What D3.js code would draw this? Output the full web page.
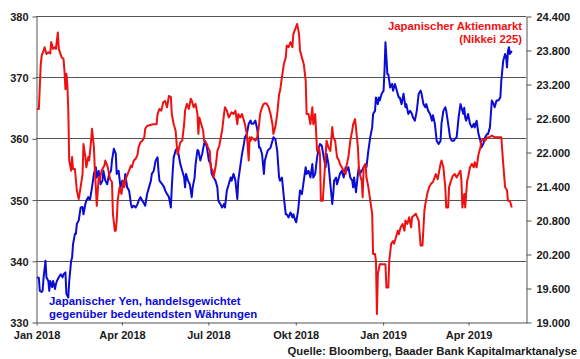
<!DOCTYPE html>
<html><head><meta charset="utf-8">
<script src="https://cdn.jsdelivr.net/npm/d3@7"></script>
<style>
html,body{margin:0;padding:0;background:#fff;}
svg{display:block;font-family:"Liberation Sans",Arial,sans-serif;font-weight:bold;}
</style></head><body>
<svg id="chart" width="580" height="359"></svg>
<script>
// ---------- DATA ----------
const nikkeiDates = ["2018-01-02","2018-01-04","2018-01-06","2018-01-07","2018-01-09","2018-01-10","2018-01-12","2018-01-14","2018-01-16","2018-01-17","2018-01-19","2018-01-21","2018-01-22","2018-01-24","2018-01-25","2018-01-28","2018-01-30","2018-01-31","2018-02-01","2018-02-02","2018-02-03","2018-02-04","2018-02-05","2018-02-07","2018-02-08","2018-02-09","2018-02-11","2018-02-13","2018-02-15","2018-02-17","2018-02-19","2018-02-20","2018-02-22","2018-02-23","2018-02-25","2018-02-26","2018-02-28","2018-03-01","2018-03-03","2018-03-04","2018-03-05","2018-03-06","2018-03-08","2018-03-09","2018-03-11","2018-03-14","2018-03-15","2018-03-17","2018-03-18","2018-03-20","2018-03-22","2018-03-23","2018-03-25","2018-03-26","2018-03-27","2018-03-28","2018-03-30","2018-04-01","2018-04-03","2018-04-04","2018-04-06","2018-04-09","2018-04-11","2018-04-12","2018-04-14","2018-04-16","2018-04-18","2018-04-19","2018-04-21","2018-04-23","2018-04-25","2018-04-26","2018-04-28","2018-05-02","2018-05-05","2018-05-08","2018-05-09","2018-05-11","2018-05-13","2018-05-15","2018-05-17","2018-05-19","2018-05-21","2018-05-23","2018-05-24","2018-05-26","2018-05-28","2018-05-30","2018-05-31","2018-06-02","2018-06-04","2018-06-06","2018-06-07","2018-06-09","2018-06-11","2018-06-13","2018-06-14","2018-06-16","2018-06-18","2018-06-20","2018-06-21","2018-06-22","2018-06-24","2018-06-26","2018-06-27","2018-06-30","2018-07-01","2018-07-03","2018-07-04","2018-07-06","2018-07-07","2018-07-09","2018-07-10","2018-07-11","2018-07-13","2018-07-14","2018-07-16","2018-07-18","2018-07-19","2018-07-21","2018-07-23","2018-07-25","2018-07-26","2018-07-28","2018-07-30","2018-08-01","2018-08-02","2018-08-04","2018-08-06","2018-08-08","2018-08-09","2018-08-11","2018-08-13","2018-08-14","2018-08-15","2018-08-16","2018-08-18","2018-08-20","2018-08-22","2018-08-24","2018-08-25","2018-08-27","2018-08-29","2018-08-30","2018-09-01","2018-09-03","2018-09-05","2018-09-07","2018-09-08","2018-09-10","2018-09-12","2018-09-14","2018-09-15","2018-09-17","2018-09-19","2018-09-21","2018-09-22","2018-09-24","2018-09-26","2018-09-28","2018-09-29","2018-10-01","2018-10-03","2018-10-05","2018-10-06","2018-10-08","2018-10-10","2018-10-12","2018-10-13","2018-10-15","2018-10-17","2018-10-19","2018-10-20","2018-10-22","2018-10-24","2018-10-26","2018-10-27","2018-10-28","2018-10-30","2018-11-01","2018-11-02","2018-11-03","2018-11-05","2018-11-07","2018-11-09","2018-11-10","2018-11-12","2018-11-14","2018-11-16","2018-11-17","2018-11-19","2018-11-21","2018-11-23","2018-11-24","2018-11-26","2018-11-28","2018-11-30","2018-12-01","2018-12-03","2018-12-06","2018-12-07","2018-12-08","2018-12-10","2018-12-11","2018-12-12","2018-12-14","2018-12-15","2018-12-17","2018-12-19","2018-12-21","2018-12-22","2018-12-24","2018-12-25","2018-12-26","2018-12-27","2018-12-29","2018-12-31","2019-01-04","2019-01-05","2019-01-07","2019-01-08","2019-01-10","2019-01-12","2019-01-13","2019-01-15","2019-01-17","2019-01-18","2019-01-20","2019-01-22","2019-01-24","2019-01-25","2019-01-27","2019-01-29","2019-01-31","2019-02-01","2019-02-03","2019-02-05","2019-02-08","2019-02-10","2019-02-12","2019-02-14","2019-02-15","2019-02-17","2019-02-19","2019-02-21","2019-02-23","2019-02-26","2019-02-28","2019-03-03","2019-03-04","2019-03-06","2019-03-08","2019-03-09","2019-03-11","2019-03-12","2019-03-14","2019-03-16","2019-03-18","2019-03-20","2019-03-22","2019-03-24","2019-03-25","2019-03-26","2019-03-28","2019-03-29","2019-03-31","2019-04-01","2019-04-03","2019-04-05","2019-04-07","2019-04-08","2019-04-10","2019-04-12","2019-04-14","2019-04-15","2019-04-17","2019-04-19","2019-04-21","2019-04-22","2019-04-26","2019-04-29","2019-05-05","2019-05-06","2019-05-08","2019-05-10","2019-05-12","2019-05-13","2019-05-15","2019-05-17"];
const nikkeiValues = [22760,22760,23550,23700,23790,23850,23730,23760,23740,23940,23820,23850,23820,24110,23820,23670,23640,23430,23110,23380,23200,22740,21850,21670,21910,21700,21700,21320,21170,21380,21610,22140,21910,21730,21910,21850,22200,22410,22080,21670,21380,21050,21550,21490,21670,21760,21850,21760,21700,21520,21470,20910,20610,20610,20790,21140,21380,21260,21490,21380,21550,21670,21760,21730,21850,21880,21960,22080,22170,22200,22260,22410,22460,22480,22490,22490,22670,22760,22730,22880,22900,22790,22990,22970,22670,22490,22380,21960,22020,22170,22200,22490,22730,22850,22760,22940,22910,22790,22850,22670,22320,22610,22490,22380,22200,22140,22080,22020,21730,21670,21550,21730,21850,22020,22110,22200,22380,22670,22790,22730,22610,22670,22700,22670,22730,22490,22670,22610,22670,22550,22490,22320,21850,22260,22200,22260,22230,22200,22260,22490,22670,22790,22850,22860,22850,22790,22670,22490,22320,22440,22670,23020,23080,23320,23550,23670,23880,23850,23940,23850,24080,24170,24260,24080,23790,23670,23550,23260,22670,22670,22490,22790,22490,22670,22020,22080,21960,21140,21140,21670,21960,22200,22080,22020,22440,22260,22200,21910,21850,21790,21730,21670,21610,21760,21910,22200,22380,22490,22580,22080,21730,21610,21490,21200,21730,21790,21550,21380,21140,20910,20200,20200,20080,19140,19850,20020,20020,20020,19610,19610,20080,20380,20430,20380,20490,20610,20550,20670,20730,20610,20790,20730,20850,20670,20850,20880,20910,20790,20350,20350,20960,21080,21260,21380,21440,21470,21610,21520,21790,21850,21730,21380,21020,21020,21380,21490,21580,21610,21550,21610,21670,21490,21020,21260,21020,21490,21550,21730,21790,21730,21820,21730,21960,22080,22200,22230,22200,22260,22250,22290,22260,22260,22260,21790,21380,21320,21140,21140,21020];

const yenDates = ["2018-01-02","2018-01-04","2018-01-05","2018-01-07","2018-01-08","2018-01-09","2018-01-11","2018-01-12","2018-01-14","2018-01-15","2018-01-16","2018-01-18","2018-01-19","2018-01-21","2018-01-22","2018-01-23","2018-01-25","2018-01-27","2018-01-29","2018-01-30","2018-02-01","2018-02-02","2018-02-04","2018-02-05","2018-02-07","2018-02-08","2018-02-09","2018-02-11","2018-02-12","2018-02-13","2018-02-15","2018-02-17","2018-02-19","2018-02-20","2018-02-22","2018-02-23","2018-02-25","2018-02-26","2018-02-27","2018-03-01","2018-03-03","2018-03-05","2018-03-06","2018-03-08","2018-03-10","2018-03-12","2018-03-13","2018-03-15","2018-03-17","2018-03-19","2018-03-21","2018-03-22","2018-03-24","2018-03-26","2018-03-27","2018-03-29","2018-03-31","2018-04-02","2018-04-04","2018-04-05","2018-04-07","2018-04-09","2018-04-11","2018-04-12","2018-04-14","2018-04-16","2018-04-18","2018-04-19","2018-04-21","2018-04-23","2018-04-25","2018-04-26","2018-04-28","2018-04-30","2018-05-02","2018-05-03","2018-05-05","2018-05-07","2018-05-09","2018-05-10","2018-05-11","2018-05-14","2018-05-16","2018-05-17","2018-05-19","2018-05-21","2018-05-23","2018-05-24","2018-05-25","2018-05-26","2018-05-28","2018-05-30","2018-05-31","2018-06-02","2018-06-04","2018-06-06","2018-06-07","2018-06-08","2018-06-10","2018-06-12","2018-06-14","2018-06-15","2018-06-17","2018-06-18","2018-06-20","2018-06-21","2018-06-23","2018-06-25","2018-06-27","2018-06-28","2018-06-30","2018-07-02","2018-07-04","2018-07-05","2018-07-07","2018-07-09","2018-07-11","2018-07-12","2018-07-14","2018-07-16","2018-07-18","2018-07-19","2018-07-21","2018-07-23","2018-07-25","2018-07-26","2018-07-28","2018-07-30","2018-08-01","2018-08-02","2018-08-04","2018-08-06","2018-08-08","2018-08-09","2018-08-11","2018-08-13","2018-08-15","2018-08-16","2018-08-18","2018-08-20","2018-08-22","2018-08-24","2018-08-25","2018-08-27","2018-08-29","2018-08-30","2018-09-01","2018-09-02","2018-09-05","2018-09-07","2018-09-08","2018-09-10","2018-09-12","2018-09-14","2018-09-15","2018-09-17","2018-09-19","2018-09-21","2018-09-22","2018-09-24","2018-09-26","2018-09-28","2018-09-29","2018-10-01","2018-10-02","2018-10-04","2018-10-05","2018-10-06","2018-10-08","2018-10-10","2018-10-12","2018-10-13","2018-10-15","2018-10-17","2018-10-19","2018-10-20","2018-10-22","2018-10-24","2018-10-26","2018-10-27","2018-10-29","2018-10-31","2018-11-02","2018-11-03","2018-11-05","2018-11-07","2018-11-09","2018-11-10","2018-11-11","2018-11-13","2018-11-14","2018-11-16","2018-11-17","2018-11-19","2018-11-21","2018-11-23","2018-11-24","2018-11-26","2018-11-28","2018-11-30","2018-12-01","2018-12-02","2018-12-04","2018-12-06","2018-12-07","2018-12-08","2018-12-10","2018-12-12","2018-12-14","2018-12-15","2018-12-17","2018-12-19","2018-12-21","2018-12-22","2018-12-24","2018-12-25","2018-12-27","2018-12-28","2018-12-29","2018-12-31","2019-01-02","2019-01-03","2019-01-04","2019-01-05","2019-01-06","2019-01-07","2019-01-09","2019-01-11","2019-01-12","2019-01-14","2019-01-16","2019-01-18","2019-01-19","2019-01-21","2019-01-23","2019-01-25","2019-01-26","2019-01-28","2019-01-30","2019-02-01","2019-02-02","2019-02-04","2019-02-06","2019-02-08","2019-02-10","2019-02-11","2019-02-13","2019-02-15","2019-02-16","2019-02-18","2019-02-20","2019-02-22","2019-02-23","2019-02-25","2019-02-27","2019-03-01","2019-03-03","2019-03-04","2019-03-06","2019-03-08","2019-03-09","2019-03-11","2019-03-13","2019-03-15","2019-03-17","2019-03-18","2019-03-20","2019-03-22","2019-03-24","2019-03-25","2019-03-27","2019-03-28","2019-03-29","2019-03-30","2019-04-01","2019-04-03","2019-04-05","2019-04-07","2019-04-08","2019-04-10","2019-04-12","2019-04-14","2019-04-15","2019-04-17","2019-04-19","2019-04-21","2019-04-22","2019-04-24","2019-04-26","2019-04-28","2019-04-29","2019-05-01","2019-05-03","2019-05-05","2019-05-06","2019-05-08","2019-05-10","2019-05-11","2019-05-12","2019-05-13","2019-05-14","2019-05-15","2019-05-17"];
const yenValues = [337.3,337.2,335.1,334.9,335.2,337.3,340.0,337.3,336.7,335.1,336.7,335.7,336.7,335.4,336.2,336.7,337.3,337.8,337.3,337.8,338.1,334.6,334.0,336.7,340.0,340.5,342.7,344.4,344.4,346.0,346.6,348.7,348.8,347.6,349.3,349.8,350.4,350.1,350.1,352.0,354.2,355.3,353.6,354.7,352.5,353.1,354.7,353.1,352.5,354.2,354.7,356.4,358.3,357.5,354.2,354.7,352.0,353.1,352.5,354.2,352.0,351.5,349.3,348.7,349.0,348.7,349.3,349.8,350.4,349.8,349.3,349.0,350.9,352.0,353.1,354.2,354.7,356.4,356.9,354.7,353.1,352.5,352.0,351.5,350.9,350.4,348.7,352.0,354.7,356.9,358.0,358.5,357.5,355.8,354.7,353.6,352.0,354.2,353.1,352.5,350.4,352.0,353.6,355.7,358.1,358.0,356.4,357.5,359.1,359.6,358.5,356.4,355.8,354.2,353.6,353.1,352.0,349.8,349.3,348.7,349.3,348.7,351.5,352.5,353.6,353.1,354.2,353.1,350.1,353.1,355.3,357.5,359.1,360.2,360.7,362.4,362.9,362.4,362.4,362.9,361.5,358.5,358.5,357.5,354.2,356.4,357.5,358.0,358.5,359.6,360.2,359.9,358.0,353.6,353.1,353.6,350.4,347.6,347.6,347.1,347.9,347.1,347.6,346.6,346.3,348.2,349.8,351.5,350.9,353.1,355.3,354.2,354.7,353.6,355.8,353.6,354.2,356.9,358.5,359.1,358.8,356.9,355.3,357.5,355.8,352.5,349.3,350.9,353.1,353.6,352.5,353.6,354.2,354.7,353.6,355.3,354.7,355.3,353.6,353.1,352.0,353.6,351.2,354.2,355.3,354.2,354.7,355.3,355.8,355.3,358.0,360.2,361.8,364.0,364.5,366.7,365.6,366.7,366.2,367.3,367.8,371.1,375.7,373.3,370.5,370.5,368.3,368.9,367.8,368.9,367.8,366.7,366.7,365.6,367.3,365.1,365.6,364.0,364.5,364.0,363.4,362.9,364.5,367.3,367.8,367.3,365.6,365.1,365.6,364.5,364.0,362.9,363.8,362.4,359.6,359.1,359.6,362.4,364.5,365.1,364.5,362.4,360.2,359.6,359.6,359.9,360.2,363.4,365.6,365.1,364.0,365.0,363.4,362.9,364.0,362.4,361.8,362.4,361.8,362.9,360.7,359.6,358.5,359.1,360.2,360.7,360.7,361.8,366.2,365.6,365.1,366.2,366.2,366.7,369.4,372.7,373.8,373.3,371.6,374.3,374.9,373.8,374.3];

const leftTicks = [330, 340, 350, 360, 370, 380];
const rightTicks = [19000, 19600, 20200, 20800, 21400, 22000, 22600, 23200, 23800, 24400];
const xTickDates = ["2018-01-01", "2018-04-01", "2018-07-01", "2018-10-01", "2019-01-01", "2019-04-01"];
const xTickLabels = ["Jan 2018", "Apr 2018", "Jul 2018", "Okt 2018", "Jan 2019", "Apr 2019"];
const xDomain = ["2018-01-01", "2019-06-01"];
const yenLabel = ["Japanischer Yen, handelsgewichtet", "gegenüber bedeutendsten Währungen"];
const nikkeiLabel = ["Japanischer Aktienmarkt", "(Nikkei 225)"];
const sourceText = "Quelle: Bloomberg, Baader Bank Kapitalmarktanalyse";

// ---------- CHART ----------
const L = 36, R = 526, T = 16, B = 322;
const RED = "#ee1111", BLUE = "#0b0bd6", GRID = "#555", TXT = "#1a1a1a";
const parse = d3.timeParse("%Y-%m-%d");
const svg = d3.select("#chart");

const x = d3.scaleTime().domain(xDomain.map(parse)).range([L, R]);
const yL = d3.scaleLinear().domain([330, 380]).range([B, T]);
const yR = d3.scaleLinear().domain([19000, 24400]).range([B, T]);
const de = d3.formatLocale({decimal: ",", thousands: ".", grouping: [3], currency: ["", ""]});
const fmtR = de.format(",");

// gridlines
svg.append("g").selectAll("line").data(leftTicks.filter(t => t > 330)).join("line")
  .attr("x1", L).attr("x2", R)
  .attr("y1", d => Math.round(yL(d)) + 0.5).attr("y2", d => Math.round(yL(d)) + 0.5)
  .attr("stroke", GRID).attr("stroke-width", 1);

function styleAxis(g) {
  g.attr("font-family", null).attr("font-size", null);
  g.selectAll(".domain").attr("stroke", GRID);
  g.selectAll(".tick line").attr("stroke", GRID);
  g.selectAll(".tick text").attr("fill", TXT).style("font-size", "11px").style("font-weight", "bold");
}

const gL = svg.append("g").attr("transform", `translate(${L + 0.5},0.5)`)
  .call(d3.axisLeft(yL).tickValues(leftTicks).tickSize(4).tickSizeOuter(0).tickPadding(4));
styleAxis(gL);
gL.selectAll(".tick text").attr("dy", "0.36em");

const gR = svg.append("g").attr("transform", `translate(${R + 0.5},0.5)`)
  .call(d3.axisRight(yR).tickValues(rightTicks).tickSize(5).tickSizeOuter(0).tickPadding(5).tickFormat(fmtR));
styleAxis(gR);
gR.selectAll(".tick text").attr("dy", "0.36em");

const gB = svg.append("g").attr("transform", `translate(0.5,${B + 0.5})`)
  .call(d3.axisBottom(x).tickValues(xTickDates.map(parse)).tickSize(3).tickSizeOuter(0).tickPadding(6)
    .tickFormat((d, i) => xTickLabels[i]));
styleAxis(gB);

// lines
const yenData = yenDates.map((d, i) => ({date: parse(d), v: yenValues[i]}));
const nikData = nikkeiDates.map((d, i) => ({date: parse(d), v: nikkeiValues[i]}));

svg.append("path").datum(yenData)
  .attr("fill", "none").attr("stroke", BLUE).attr("stroke-width", 2).attr("stroke-linejoin", "round")
  .attr("d", d3.line().x(d => x(d.date)).y(d => yL(d.v)));
svg.append("path").datum(nikData)
  .attr("fill", "none").attr("stroke", RED).attr("stroke-width", 2).attr("stroke-linejoin", "round")
  .attr("d", d3.line().x(d => x(d.date)).y(d => yR(d.v)));

// legends
svg.append("g").selectAll("text").data(nikkeiLabel).join("text")
  .attr("x", 522).attr("y", (d, i) => 29.5 + i * 13.4)
  .attr("text-anchor", "end").attr("fill", RED).style("font-size", "11.3px").text(d => d);
svg.append("g").selectAll("text").data(yenLabel).join("text")
  .attr("x", 49).attr("y", (d, i) => 305 + i * 13.3)
  .attr("fill", BLUE).style("font-size", "11.4px").text(d => d);

svg.append("text").attr("x", 577).attr("y", 355).attr("text-anchor", "end")
  .attr("fill", TXT).style("font-size", "11.3px").text(sourceText);
</script>
</body></html>
